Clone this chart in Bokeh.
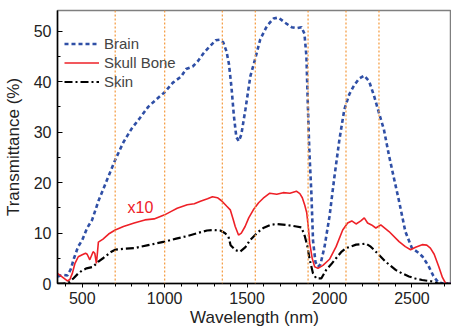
from bokeh.plotting import figure
from bokeh.models import Range1d, Span, Label, Legend, LegendItem, SingleIntervalTicker
from bokeh.embed import file_html
from bokeh.resources import INLINE

# ---------------- data ----------------
brain_wl = [350, 370, 390, 410, 430, 450, 475, 500, 530, 560, 600, 650, 700, 750, 800, 850, 900,
            950, 1000, 1050, 1100, 1130, 1170, 1200, 1240, 1280, 1310, 1335, 1355, 1375, 1390,
            1405, 1420, 1435, 1450, 1465, 1490, 1520, 1545, 1580, 1620, 1660, 1690, 1730, 1770,
            1800, 1830, 1848, 1860, 1868, 1878, 1890, 1900, 1915, 1930, 1945, 1970, 2000, 2030,
            2060, 2090, 2120, 2150, 2180, 2210, 2240, 2270, 2300, 2330, 2360, 2390, 2420, 2460,
            2500, 2535, 2565, 2600, 2630, 2660, 2690, 2775]
brain_t = [1.4, 1.6, 1.7, 1.6, 2.8, 5.0, 7.3, 8.6, 11.0, 12.6, 16.5, 20.5, 24.5, 28.0, 30.7, 32.8,
           35.0, 36.5, 37.9, 39.8, 41.0, 42.5, 43.0, 44.0, 45.8, 47.2, 48.2, 48.3, 47.8, 46.0, 43.5,
           39.0, 33.2, 29.0, 28.2, 29.5, 34.5, 41.1, 44.0, 48.4, 51.0, 52.5, 52.7, 51.7, 50.8,
           50.6, 50.8, 49.5, 45.0, 36.0, 26.0, 17.9, 8.5, 4.2, 3.3, 3.8, 7.3, 13.3, 21.2,
           28.5, 34.5, 37.5, 39.3, 40.6, 41.2, 40.1, 37.2, 33.8, 30.5, 25.5, 21.0, 16.6, 10.3,
           7.0, 6.2, 5.3, 3.5, 1.5, 0.2, 0.0, 0.0]

skull_wl = [350, 370, 390, 410, 425, 440, 456, 476, 500, 520, 530, 546, 556, 566, 576, 586, 592,
            598, 626, 660, 700, 750, 815, 880, 936, 1000, 1040, 1076, 1137, 1180, 1217, 1260, 1290,
            1320, 1345, 1377, 1398, 1415, 1428, 1448, 1465, 1488, 1510, 1538, 1570, 1598, 1638,
            1680, 1719, 1760, 1799, 1820, 1835, 1850, 1862, 1872, 1880, 1895, 1910, 1930, 1960,
            2000, 2040, 2080, 2110, 2135, 2161, 2190, 2211, 2231, 2255, 2281, 2311, 2361, 2422,
            2460, 2492, 2522, 2562, 2590, 2612, 2635, 2663, 2685, 2705, 2775]
skull_t = [2.0, 1.5, 1.0, 0.5, 0.8, 2.0, 4.0, 5.3, 5.7, 6.0, 5.8, 4.7, 5.5, 6.3, 6.0, 4.0, 6.0,
           8.2, 8.8, 9.8, 10.6, 11.3, 12.0, 12.6, 12.8, 13.6, 14.3, 14.9, 15.6, 15.8, 16.3, 16.8,
           17.2, 17.0, 16.4, 15.3, 14.6, 12.8, 11.3, 9.6, 10.0, 11.3, 13.0, 14.6, 16.0, 16.9, 17.9,
           17.7, 18.0, 17.9, 18.3, 17.8, 17.0, 15.5, 14.0, 11.0, 8.0, 5.0, 3.3, 3.0, 3.6,
           4.8, 7.3, 10.6, 12.0, 12.4, 11.8, 12.4, 13.0, 12.0, 11.6, 11.0, 11.6, 10.3, 8.3,
           7.3, 6.7, 7.2, 7.7, 7.6, 7.0, 5.8, 3.3, 1.2, 0.0, 0.0]

skin_wl = [350, 380, 416, 446, 476, 500, 526, 566, 596, 626, 677, 700, 760, 815, 900, 1000, 1070,
           1137, 1200, 1257, 1300, 1337, 1365, 1387, 1400, 1430, 1458, 1490, 1518, 1560, 1598,
           1640, 1679, 1740, 1799, 1830, 1849, 1865, 1880, 1900, 1920, 1950, 1980, 2010, 2040,
           2070, 2100, 2161, 2221, 2250, 2281, 2341, 2401, 2440, 2482, 2520, 2562, 2622, 2660, 2775]
skin_t = [0.0, 0.0, 0.1, 1.0, 2.0, 2.6, 3.0, 3.3, 4.3, 5.0, 6.3, 6.7, 6.9, 7.0, 7.6, 8.3, 8.9,
          9.4, 10.0, 10.5, 10.6, 10.5, 10.0, 9.3, 7.6, 6.6, 6.3, 7.2, 8.6, 10.0, 11.0,
          11.6, 11.8, 11.6, 11.3, 11.1, 9.5, 7.5, 4.7, 2.0, 1.0, 1.0, 2.7, 3.8, 5.0,
          6.2, 7.0, 7.7, 7.9, 7.3, 6.3, 4.3, 2.7, 2.0, 1.4, 1.0, 0.7, 0.4, 0.0, 0.0]

windows_nm = [700, 1000, 1350, 1550, 1870, 2100, 2300]

# ---------------- figure ----------------
FONT = "Liberation Sans"
p = figure(width=451, height=329, output_backend="svg", toolbar_location=None,
           x_range=Range1d(350, 2740), y_range=Range1d(0, 54.1),
           min_border_left=52, min_border_right=0, min_border_top=10, min_border_bottom=0)
p.background_fill_color = "white"
p.border_fill_color = "white"
p.grid.visible = False
p.outline_line_color = "#7f7f7f"
p.outline_line_width = 1.5

for w in windows_nm:
    p.add_layout(Span(location=w, dimension="height", line_color="#f5a04a",
                      line_width=1.3, line_dash="2 2"))

r_brain = p.line(brain_wl, brain_t, line_color="#2f4fa6", line_width=2.6, line_dash="4 3")
r_skull = p.line(skull_wl, skull_t, line_color="#ee2027", line_width=1.6)
r_skin = p.line(skin_wl, skin_t, line_color="black", line_width=2.2, line_dash="8 3 2 3")

p.add_layout(Label(x=775, y=15, text="x10", text_color="#ee2027", text_font=FONT,
                   text_font_size="16px", text_baseline="middle"))

legend = Legend(items=[LegendItem(label="Brain", renderers=[r_brain]),
                       LegendItem(label="Skull Bone", renderers=[r_skull]),
                       LegendItem(label="Skin", renderers=[r_skin])],
                location=(7, 192), border_line_color=None, background_fill_alpha=0,
                label_text_font=FONT, label_text_font_size="15px", glyph_width=35,
                glyph_height=19, label_height=19, spacing=0, padding=2, margin=0,
                label_standoff=5)
p.add_layout(legend)

# axes
xa = p.xaxis[0]
xa.ticker = SingleIntervalTicker(interval=500, num_minor_ticks=5)
xa.axis_label = "Wavelength (nm)"
ya = p.yaxis[0]
ya.ticker = SingleIntervalTicker(interval=10, num_minor_ticks=2)
ya.axis_label = "Transmittance (%)"
for ax in (xa, ya):
    ax.axis_line_color = "black"
    ax.axis_line_width = 1.5
    ax.major_tick_line_color = "black"
    ax.minor_tick_line_color = "black"
    ax.major_label_text_font = FONT
    ax.major_label_text_font_size = "16px"
    ax.major_label_text_color = "#222222"
    ax.axis_label_text_font = FONT
    ax.axis_label_text_font_style = "normal"
    ax.axis_label_text_color = "#222222"
    ax.axis_label_text_font_size = "17px"
xa.major_tick_in = 0
xa.major_tick_out = 4
xa.minor_tick_in = 0
xa.minor_tick_out = 3
xa.major_label_standoff = 4
xa.axis_label_standoff = 1
ya.major_tick_in = 5
ya.major_tick_out = 0
ya.minor_tick_in = 3
ya.minor_tick_out = 0
ya.major_label_standoff = 6
ya.axis_label_standoff = 8

open("out.html", "w").write(file_html(p, INLINE))
